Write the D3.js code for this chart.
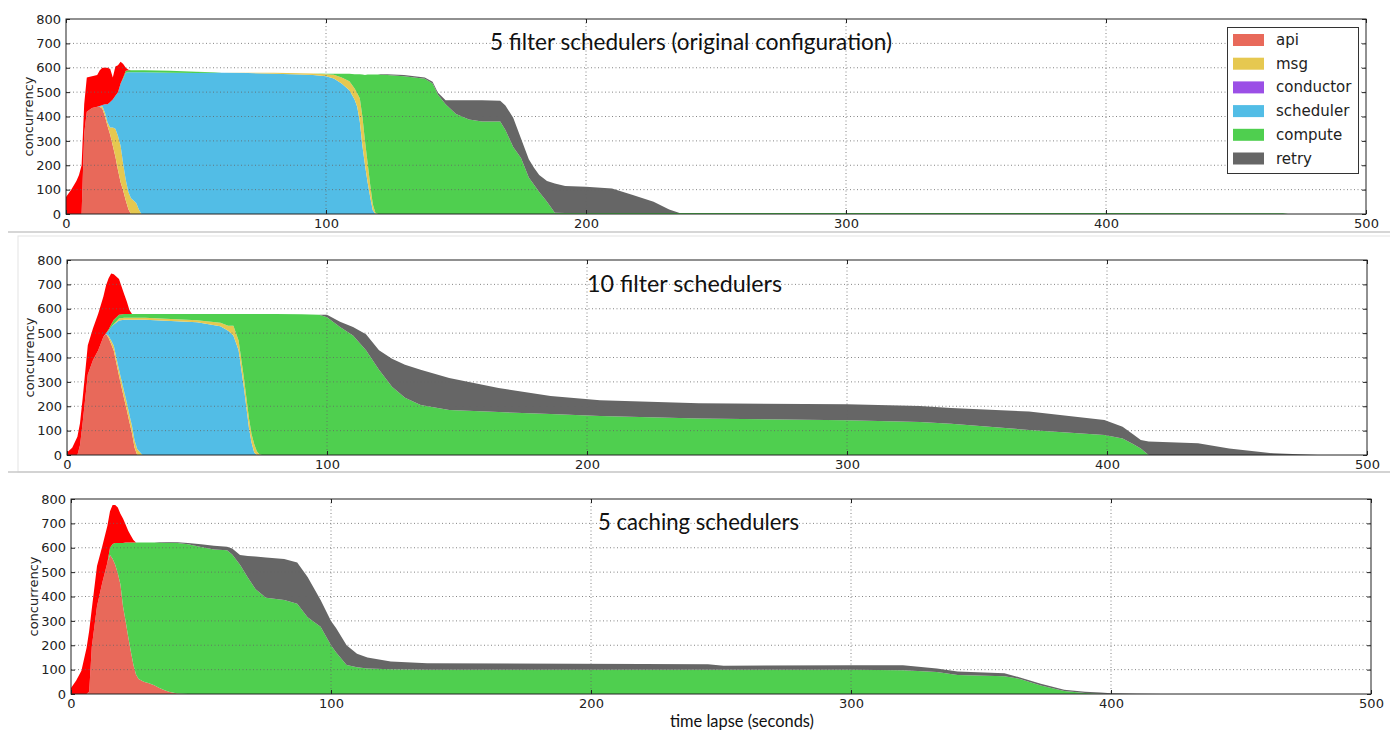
<!DOCTYPE html>
<html lang="en">
<head>
  <meta charset="UTF-8">
  <title>Concurrency per phase</title>
  <script src="https://d3js.org/d3.v7.min.js"></script>
  <style>
    body { margin: 0; background: #fff; }
    svg { display: block; }
    .tick text { font-family: "DejaVu Sans", sans-serif; font-size: 13px; fill: #222; }
    .tick line { stroke: #222; }
    .grid line { stroke: #666; stroke-width: 0.8; stroke-dasharray: 1,2.5; }
    .frame { fill: none; stroke: #222; stroke-width: 1; }
    .title { font-family: Lato, sans-serif; font-size: 23px; fill: #111; }
    .ylabel { font-family: "DejaVu Sans", sans-serif; font-size: 13px; fill: #222; text-anchor: middle; }
    .legend text { font-family: "DejaVu Sans", sans-serif; font-size: 15px; fill: #222; }
  </style>
</head>
<body>
  <div id="chart"></div>

  <script>
    const width = 1390, height = 736;

    // legend entries and colours
    const phases = ["api", "msg", "conductor", "scheduler", "compute", "retry"];
    const phaseColors = ["#e8695a", "#e6c850", "#9b4fe6", "#52bde6", "#4fcf4f", "#666666"];
    const queuedColor = "#ff0000";

    const xTicks = [0, 100, 200, 300, 400, 500];
    const yTicks = [0, 100, 200, 300, 400, 500, 600, 700, 800];
    const titles = ["5 filter schedulers  (original configuration)", "10 filter schedulers", "5 caching schedulers"];
    const xLabel = "time lapse (seconds)";
    const yLabel = "concurrency";

    // ---- panel 1: 5 filter schedulers ----
    const p1Time = [0,2,4,5,6,7,8,10,12,13, 14,15,16,17,18,19,20,21,22,23, 24,25,26,27,28,29,30,40,50,57,
                    60,70,80,90,95,100,103,106,109,111, 112,113,114,115,116,117,118,119,120,121,
                    130,138,141,143,146,150,155,160,167,169, 172,175,178,180,182,185,188,192,200,210,
                    218,226,232,236,300,400,468,470,500];
    const p1Api = [0,0,0,0,0,330,420,435,440,440, 432,400,360,325,280,235,180,130,95,55, 20,0,0,0,0,0,0,0,0,0,
                   0,0,0,0,0,0,0,0,0,0, 0,0,0,0,0,0,0,0,0,0, 0,0,0,0,0,0,0,0,0,0, 0,0,0,0,0,0,0,0,0,0, 0,0,0,0,0,0,0,0,0];
    const p1MsgIn = [0,0,0,0,0,0,0,0,0,0, 10,15,15,30,75,115,140,150,110,85, 70,65,55,45,20,0,0,0,0,0,
                     0,0,0,0,0,0,0,0,0,0, 0,0,0,0,0,0,0,0,0,0, 0,0,0,0,0,0,0,0,0,0, 0,0,0,0,0,0,0,0,0,0, 0,0,0,0,0,0,0,0,0];
    const p1Scheduler = [0,0,0,0,0,0,0,0,0,3, 5,35,75,105,115,135,180,255,350,440, 492,517,527,537,562,582,582,580,578,580,
                         580,578,575,572,570,565,556,535,508,470, 440,380,280,200,130,70,15,0,0,0,
                         0,0,0,0,0,0,0,0,0,0, 0,0,0,0,0,0,0,0,0,0, 0,0,0,0,0,0,0,0,0];
    const p1MsgOut = [0,0,0,0,0,0,0,0,0,0, 0,0,0,0,0,0,0,0,0,0, 0,0,0,0,0,0,0,0,0,0,
                      0,2,4,5,6,8,15,25,37,45, 55,95,120,100,80,50,25,5,0,0,
                      0,0,0,0,0,0,0,0,0,0, 0,0,0,0,0,0,0,0,0,0, 0,0,0,0,0,0,0,0,0];
    const p1Compute = [0,0,0,0,0,0,0,0,0,0, 0,0,0,0,0,0,0,0,5,8, 8,8,8,8,8,8,8,8,6,2,
                       0,0,0,0,0,2,4,15,30,58, 78,98,172,270,362,452,532,567,572,572,
                       565,555,535,490,450,410,388,380,380,345, 275,230,150,120,90,50,5,4,4,4,
                       4,4,4,4,4,4,3,0,0];
    const p1Retry = [0,0,0,0,0,0,0,0,0,0, 0,0,0,0,0,0,0,0,0,0, 0,0,0,0,0,0,0,0,0,0,
                     0,0,0,0,0,0,0,0,0,0, 0,0,0,0,0,0,0,0,0,2,
                     5,5,8,8,17,57,79,87,85,100, 120,80,75,70,70,85,120,111,108,101,
                     74,46,14,0,0,0,0,0,0];
    const p1Queued = [70,100,135,160,200,120,140,130,130,147, 153,150,150,135,90,120,110,90,55,12, 2,0,0,0,0,0,0,0,0,0,
                      0,0,0,0,0,0,0,0,0,0, 0,0,0,0,0,0,0,0,0,0, 0,0,0,0,0,0,0,0,0,0, 0,0,0,0,0,0,0,0,0,0, 0,0,0,0,0,0,0,0,0];

    // ---- panel 2: 10 filter schedulers ----
    const p2Time = [0,2,4,5,6,8,10,12,14,15, 16,17,18,20,22,23,24,25,26,27, 28,29,30,40,50,59,62,64,66,68,
                    70,71,72,73,74,75,80,90,97,100, 105,110,115,120,125,130,136,147,166,186,
                    205,243,300,328,340,370,399,406,410,413, 416,435,447,464,481,500];
    const p2Api = [0,0,0,40,130,330,390,430,485,497, 480,455,428,325,230,185,135,89,30,0, 0,0,0,0,0,0,0,0,0,0,
                   0,0,0,0,0,0,0,0,0,0, 0,0,0,0,0,0,0,0,0,0, 0,0,0,0,0,0,0,0,0,0, 0,0,0,0,0,0];
    const p2MsgIn = [0,0,0,0,0,0,0,0,0,0, 8,15,20,25,30,30,30,30,30,25, 12,0,0,0,0,0,0,0,0,0,
                     0,0,0,0,0,0,0,0,0,0, 0,0,0,0,0,0,0,0,0,0, 0,0,0,0,0,0,0,0,0,0, 0,0,0,0,0,0];
    const p2Scheduler = [0,0,0,0,0,0,0,0,0,3, 22,55,87,202,295,340,390,436,495,530, 543,555,555,550,545,528,510,490,430,280,
                         110,50,10,0,0,0,0,0,0,0, 0,0,0,0,0,0,0,0,0,0, 0,0,0,0,0,0,0,0,0,0, 0,0,0,0,0,0];
    const p2MsgOut = [0,0,0,0,0,0,0,0,0,0, 0,0,2,8,8,8,8,8,8,8, 8,8,8,8,8,15,20,40,40,40,
                      40,35,35,15,3,0,0,0,0,0, 0,0,0,0,0,0,0,0,0,0, 0,0,0,0,0,0,0,0,0,0, 0,0,0,0,0,0];
    const p2Compute = [0,0,0,0,0,0,0,0,0,0, 5,10,18,15,15,15,15,15,15,15, 15,15,15,20,25,35,48,48,108,258,
                       428,493,533,563,575,578,578,577,575,565, 525,490,430,350,280,235,205,185,176,168,
                       160,150,143,135,128,103,82,68,45,27, 0,0,0,0,0,0];
    const p2Retry = [0,0,0,0,0,0,0,0,0,0, 0,0,0,0,0,0,0,0,0,0, 0,0,0,0,0,0,0,0,0,0,
                     0,0,0,0,0,0,0,0,0,10, 22,35,65,80,115,135,145,131,99,74,
                     65,62,65,66,65,75,62,48,40,35, 55,48,27,7,0,0];
    const p2Queued = [10,30,75,90,100,120,130,150,165,195, 210,210,187,147,82,52,17,0,0,0, 0,0,0,0,0,0,0,0,0,0,
                      0,0,0,0,0,0,0,0,0,0, 0,0,0,0,0,0,0,0,0,0, 0,0,0,0,0,0,0,0,0,0, 0,0,0,0,0,0];

    // ---- panel 3: 5 caching schedulers ----
    const p3Time = [0,2,4,6,7,8,10,12,14,15, 16,17,18,19,20,21,22,23,24,25, 26,28,30,32,34,36,38,41,45,50,
                    55,60,62,65,68,71,75,82,87,91, 96,100,102,106,110,114,123,137,245,251,
                    300,320,333,341,359,365,373,382,390,396, 400,410,420,500];
    const p3Api = [0,0,0,0,10,194,360,455,540,570, 555,530,495,450,360,300,235,175,120,80, 62,50,44,36,25,15,8,2,0,0,
                   0,0,0,0,0,0,0,0,0,0, 0,0,0,0,0,0,0,0,0,0, 0,0,0,0,0,0,0,0,0,0, 0,0,0,0];
    const p3Compute = [0,0,0,0,0,0,0,0,0,30, 60,90,125,170,260,322,387,447,502,542, 560,572,578,586,597,605,613,618,614,603,
                       593,590,572,530,478,430,395,386,370,315, 276,200,170,119,110,105,102,100,100,100,
                       100,97,90,78,73,62,35,12,4,1, 0,0,0,0];
    const p3Retry = [0,0,0,0,0,0,0,0,0,0, 0,0,0,0,0,0,0,0,0,0, 0,0,0,0,2,3,3,3,6,11,
                     15,14,25,40,88,134,165,168,170,165, 110,100,100,81,55,45,31,26,22,16,
                     18,21,15,14,12,6,7,5,5,5, 3,1,0,0];
    const p3Queued = [25,55,95,190,250,156,165,150,150,150, 160,155,145,120,100,73,48,28,10,0, 0,0,0,0,0,0,0,0,0,0,
                      0,0,0,0,0,0,0,0,0,0, 0,0,0,0,0,0,0,0,0,0, 0,0,0,0,0,0,0,0,0,0, 0,0,0,0];

    const layerColor = {
      api: phaseColors[0], msgIn: phaseColors[1], msgOut: phaseColors[1],
      scheduler: phaseColors[3], compute: phaseColors[4], retry: phaseColors[5], queued: queuedColor
    };

    const panels = [
      { time: p1Time, layers: { api: p1Api, msgIn: p1MsgIn, scheduler: p1Scheduler, msgOut: p1MsgOut, compute: p1Compute, retry: p1Retry, queued: p1Queued },
        box: { left: 66, right: 1366, top: 19, bottom: 214 }, title: titles[0], titleX: 490, titleW: 402, titleY: 50, legend: true },
      { time: p2Time, layers: { api: p2Api, msgIn: p2MsgIn, scheduler: p2Scheduler, msgOut: p2MsgOut, compute: p2Compute, retry: p2Retry, queued: p2Queued },
        box: { left: 67, right: 1367, top: 260, bottom: 455 }, title: titles[1], titleX: 587, titleW: 195, titleY: 292 },
      { time: p3Time, layers: { api: p3Api, compute: p3Compute, retry: p3Retry, queued: p3Queued },
        box: { left: 71, right: 1371, top: 499, bottom: 694 }, title: titles[2], titleX: 598, titleW: 201, titleY: 530, xlabel: true }
    ];

    const svg = d3.select("#chart").append("svg")
      .attr("width", width)
      .attr("height", height);

    // separators between the three screenshots
    svg.append("rect").attr("x", 18).attr("y", 236).attr("width", 1380).attr("height", 236)
      .attr("fill", "none").attr("stroke", "#e4e4e4");
    svg.append("line").attr("x1", 8).attr("x2", width).attr("y1", 232).attr("y2", 232).attr("stroke", "#c8c8c8").attr("stroke-width", 1.5);
    svg.append("line").attr("x1", 8).attr("x2", width).attr("y1", 472).attr("y2", 472).attr("stroke", "#c8c8c8").attr("stroke-width", 1.5);

    panels.forEach((p, pi) => {
      const b = p.box;
      const x = d3.scaleLinear().domain([0, 500]).range([b.left, b.right]);
      const y = d3.scaleLinear().domain([0, 800]).range([b.bottom, b.top]);
      const g = svg.append("g");

      const keys = Object.keys(p.layers);
      const rows = p.time.map((t, i) => {
        const r = { t };
        keys.forEach(k => r[k] = p.layers[k][i]);
        return r;
      });
      const stacked = d3.stack().keys(keys)(rows);

      const area = d3.area()
        .x(d => x(d.data.t))
        .y0(d => y(d[0]))
        .y1(d => y(d[1]));

      g.append("clipPath").attr("id", "clip" + pi)
        .append("rect").attr("x", b.left).attr("y", b.top)
        .attr("width", b.right - b.left).attr("height", b.bottom - b.top);

      g.append("g").attr("clip-path", `url(#clip${pi})`)
        .selectAll("path")
        .data(stacked)
        .join("path")
        .attr("fill", d => layerColor[d.key])
        .attr("d", area);

      // dotted grid on top of the areas
      const grid = g.append("g").attr("class", "grid");
      grid.selectAll(".gy").data(yTicks.slice(1, -1)).join("line")
        .attr("x1", b.left).attr("x2", b.right)
        .attr("y1", d => y(d)).attr("y2", d => y(d));
      grid.selectAll(".gx").data(xTicks.slice(1, -1)).join("line")
        .attr("x1", d => x(d)).attr("x2", d => x(d))
        .attr("y1", b.top).attr("y2", b.bottom);

      // inward ticks on all four sides
      g.append("g").attr("transform", `translate(${b.left},0)`)
        .call(d3.axisLeft(y).tickValues(yTicks).tickSize(-4).tickPadding(5))
        .call(a => a.select(".domain").remove());
      g.append("g").attr("transform", `translate(${b.right},0)`)
        .call(d3.axisRight(y).tickValues(yTicks).tickSize(-4).tickFormat(""))
        .call(a => a.select(".domain").remove());
      g.append("g").attr("transform", `translate(0,${b.bottom})`)
        .call(d3.axisBottom(x).tickValues(xTicks).tickSize(-4).tickPadding(5))
        .call(a => a.select(".domain").remove());
      g.append("g").attr("transform", `translate(0,${b.top})`)
        .call(d3.axisTop(x).tickValues(xTicks).tickSize(-4).tickFormat(""))
        .call(a => a.select(".domain").remove());

      g.append("rect").attr("class", "frame")
        .attr("x", b.left).attr("y", b.top)
        .attr("width", b.right - b.left).attr("height", b.bottom - b.top);

      g.append("text").attr("class", "ylabel")
        .attr("transform", `translate(${b.left - 33},${(b.top + b.bottom) / 2}) rotate(-90)`)
        .text(yLabel);

      g.append("text").attr("class", "title")
        .attr("x", p.titleX).attr("y", p.titleY)
        .attr("textLength", p.titleW).attr("lengthAdjust", "spacingAndGlyphs")
        .text(p.title);

      if (p.xlabel) {
        g.append("text").attr("class", "title").style("font-size", "17px")
          .attr("x", 670).attr("y", 727)
          .attr("textLength", 144).attr("lengthAdjust", "spacingAndGlyphs")
          .text(xLabel);
      }

      if (p.legend) {
        const lg = g.append("g").attr("class", "legend");
        lg.append("rect").attr("x", 1227.5).attr("y", 27.5).attr("width", 131).attr("height", 146)
          .attr("fill", "#fff").attr("stroke", "#333");
        const item = lg.selectAll(".item").data(phases).join("g")
          .attr("transform", (d, i) => `translate(1233,${40 + i * 23.7})`);
        item.append("rect").attr("x", 0).attr("y", -6).attr("width", 31).attr("height", 12)
          .attr("fill", (d, i) => phaseColors[i]);
        item.append("text").attr("x", 43).attr("y", 5).text(d => d);
      }
    });
  </script>
</body>
</html>
